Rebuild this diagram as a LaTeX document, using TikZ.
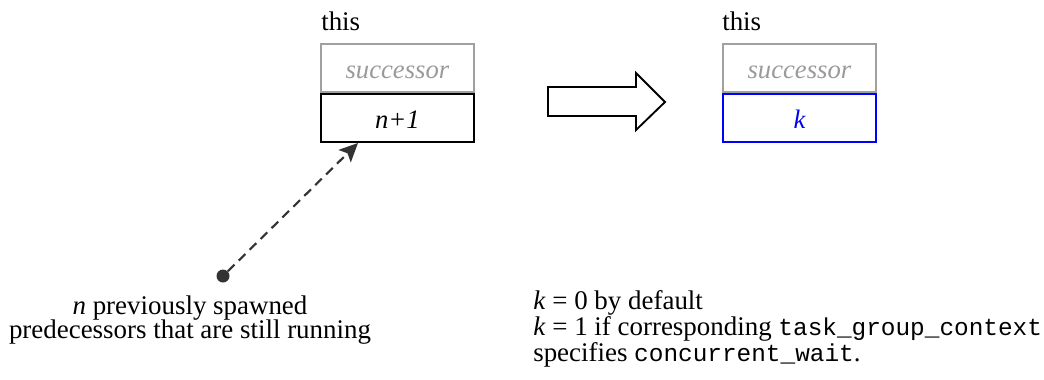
\documentclass[tikz,border=0pt]{standalone}
\usepackage{fontspec}
\setmainfont{Liberation Serif}
\setmonofont{Liberation Mono}
\usetikzlibrary{arrows.meta}
\definecolor{boxgray}{HTML}{A0A0A0}
\definecolor{txtgray}{HTML}{9A9A9A}
\definecolor{kblue}{HTML}{0000FF}
\definecolor{darkline}{HTML}{333333}
\newlength{\pxu}\setlength{\pxu}{0.75pt}
\newcommand{\mytt}[1]{{\fontsize{18.3}{18.4}\selectfont\ttfamily #1}}
\tikzset{
  fieldbox/.style={draw, line width=1.4pt, minimum width=153\pxu, minimum height=48\pxu, inner sep=0pt, text height=22\pxu, text depth=0pt, anchor=north west, font=\fontsize{20}{18.4}\selectfont\itshape},
  succbox/.style={fieldbox, draw=boxgray, text=txtgray},
  lbl/.style={inner sep=0pt, font=\fontsize{20.2}{18.4}\selectfont},
}
\begin{document}
\begin{tikzpicture}[x=0.75pt,y=-0.75pt]
\useasboundingbox (0,0) rectangle (1044,379);
% left stack
\node[lbl, anchor=base west] (thisL) at (321,30) {this};
\node[succbox] (succL) at (320,43) {successor};
\node[fieldbox, draw=black] (nbox) at (320,93) {n+1};
% right stack
\node[lbl, anchor=base west] (thisR) at (722,30) {this};
\node[succbox] (succR) at (722,43) {successor};
\node[fieldbox, draw=kblue, text=kblue] (kbox) at (722,93) {k};
% block arrow
\draw[line width=1.4pt, line join=miter] (548,87) -- (636,87) -- (636,73) -- (665,102) -- (636,130) -- (636,116) -- (548,116) -- cycle;
% dot and dashed arrow
\node[circle, fill=darkline, inner sep=0pt, minimum size=13\pxu] (dot) at (223,276) {};
\coordinate (tip) at (358,143);
\draw[darkline, line width=1.6pt, dash pattern=on 7pt off 4.5pt, -{Stealth[length=14pt,width=13pt,inset=3pt]}] (dot) -- (tip);
% texts
\node[lbl, align=center, anchor=north] (predtxt) at (190,295.5) {\textit{n} previously spawned\\predecessors that are still running};
\node[lbl, align=left, anchor=north west] (ktxt) at (533,290.5) {\textit{k} = 0 by default\\\textit{k} = 1 if corresponding \mytt{task\_group\_context}\\specifies \mytt{concurrent\_wait}.};
\end{tikzpicture}
\end{document}
